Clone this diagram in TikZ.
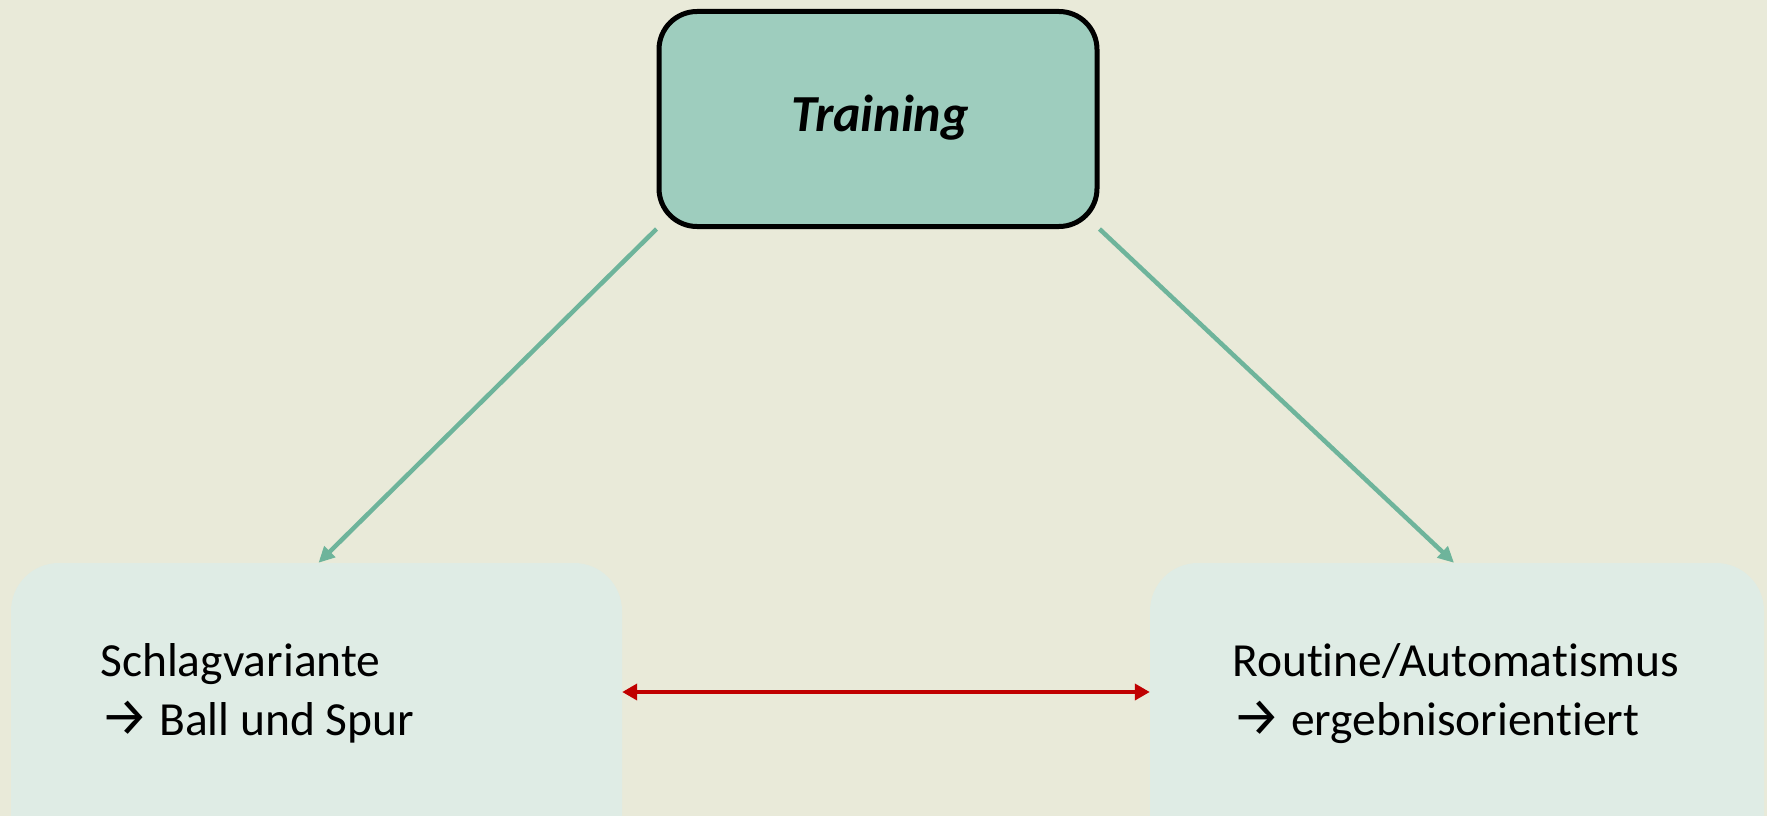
\documentclass[tikz,border=0pt]{standalone}
\usepackage{fontspec}
\setmainfont{Carlito}[Ligatures={NoCommon,NoRequired,NoContextual,NoDiscretionary}]
\newfontfamily\arrowfont{Fira Sans}
\usetikzlibrary{arrows.meta}
\definecolor{bgcol}{RGB}{233,234,217}
\definecolor{topfill}{RGB}{158,205,190}
\definecolor{boxfill}{RGB}{223,236,229}
\definecolor{greenline}{RGB}{110,180,155}
\definecolor{redline}{RGB}{192,0,0}
\newcommand{\myarrow}{\makebox[59pt][l]{\arrowfont\fontsize{54}{59}\selectfont →}}
\tikzset{
  topbox/.style={draw=black, line width=5pt, fill=topfill, rounded corners=38pt,
    minimum width=438pt, minimum height=215pt, inner sep=0pt},
  lowbox/.style={draw=none, fill=boxfill, rounded corners=48pt, inner sep=0pt,
    minimum height=337pt},
  boxtext/.style={anchor=base west, inner sep=0pt, font=\fontsize{47.5}{59}\selectfont},
  greenarrow/.style={draw=greenline, line width=4.5pt, -{Triangle[length=16pt,width=15pt]}},
  redarrow/.style={draw=redline, line width=4.5pt, {Triangle[length=15pt,width=16pt]}-{Triangle[length=15pt,width=16pt]}}
}
\begin{document}
\begin{tikzpicture}[x=1pt,y=-1pt]
\clip (0,0) rectangle (1767,816);
\fill[bgcol] (0,0) rectangle (1767,816);
\node[topbox] (top) at (878,119) {};
\node[inner sep=0pt, font=\fontsize{52}{62}\selectfont\bfseries\itshape] (toplabel) at (880,118) {Training};
\node[lowbox, minimum width=611pt] (left) at (316.5,731.5) {};
\node[lowbox, minimum width=614pt] (right) at (1457,731.5) {};
\node[boxtext] (lt1) at (100,676) {Schlagvariante};
\node[boxtext] (lt2) at (100,735) {\myarrow Ball und Spur};
\node[boxtext] (rt1) at (1232,676) {Routine/Automatismus};
\node[boxtext] (rt2) at (1232,735) {\myarrow ergebnisorientiert};
\draw[greenarrow] (top.south west) -- ([xshift=2pt]left.north);
\draw[greenarrow] (top.south east) -- ([xshift=-3pt]right.north);
\draw[redarrow] ([yshift=39.5pt]left.east) -- ([yshift=39.5pt]right.west);
\end{tikzpicture}
\end{document}
